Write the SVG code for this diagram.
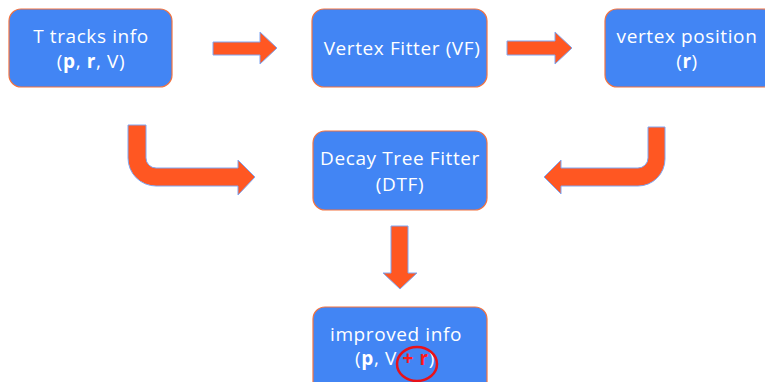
<svg xmlns="http://www.w3.org/2000/svg" width="765" height="382" viewBox="0 0 765 382">
  <style>
    .box { fill: #4285f4; stroke: #f4733f; stroke-width: 1.2; }
    .lbl { font-family: "Open Sans", "Liberation Sans", sans-serif; font-size: 19px; letter-spacing: 0.6px; fill: #ffffff; text-anchor: middle; }
    .b { font-weight: bold; }
    .arrow { fill: #ff5722; stroke: #7ea6f2; stroke-width: 1; stroke-linejoin: miter; }
    .plus { fill: #ff1a1a; font-weight: bold; }
  </style>
  <rect width="765" height="382" fill="#ffffff"/>

  <g id="connectors">
    <!-- tracks -> vertex fitter -->
    <path class="arrow" d="M213,42 H260 V32 L277,48 L260,64 V55 H213 Z"/>
    <!-- vertex fitter -> vertex position -->
    <path class="arrow" d="M507,41 H555 V32 L572,48 L555,64 V55 H507 Z"/>
    <!-- tracks -> DTF (bent) -->
    <path class="arrow" d="M128,125 H146 V158 A10,10 0 0 0 156,168 H238 V160 L255,177 L238,195 V186 H156 A28,28 0 0 1 128,158 Z"/>
    <!-- vertex position -> DTF (bent) -->
    <path class="arrow" d="M665,127 H648 V158 A10,10 0 0 1 638,168 H561 V160 L544,177 L561,194 V186 H638 A27,27 0 0 0 665,159 Z"/>
    <!-- DTF -> improved info -->
    <path class="arrow" d="M391,226 H408 V273 H417 L400,289 L383,273 H391 Z"/>
  </g>

  <g id="tracks">
    <rect class="box" x="9" y="9" width="163" height="78" rx="12"/>
    <text class="lbl" x="91" y="43">T tracks info</text>
    <text class="lbl" x="91" y="68">(<tspan class="b">p</tspan>, <tspan class="b">r</tspan>, V)</text>
  </g>

  <g id="vertex-fitter">
    <rect class="box" x="312" y="9" width="175" height="78" rx="12"/>
    <text class="lbl" x="402" y="55">Vertex Fitter (VF)</text>
  </g>

  <g id="vertex-position">
    <rect class="box" x="605" y="9" width="170" height="78" rx="12"/>
    <text class="lbl" x="687" y="43">vertex position</text>
    <text class="lbl" x="687" y="68">(<tspan class="b">r</tspan>)</text>
  </g>

  <g id="dtf">
    <rect class="box" x="313" y="131" width="174" height="79" rx="12"/>
    <text class="lbl" x="400" y="165">Decay Tree Fitter</text>
    <text class="lbl" x="400" y="191">(DTF)</text>
  </g>

  <g id="improved">
    <rect class="box" x="313" y="307" width="174" height="90" rx="12"/>
    <text class="lbl" x="396" y="341">improved info</text>
    <text class="lbl" x="395" y="365">(<tspan class="b">p</tspan>, V<tspan class="plus"> + r</tspan>)</text>
    <ellipse cx="417" cy="364" rx="20" ry="17" fill="none" stroke="#e8121a" stroke-width="2.5"/>
  </g>
</svg>
